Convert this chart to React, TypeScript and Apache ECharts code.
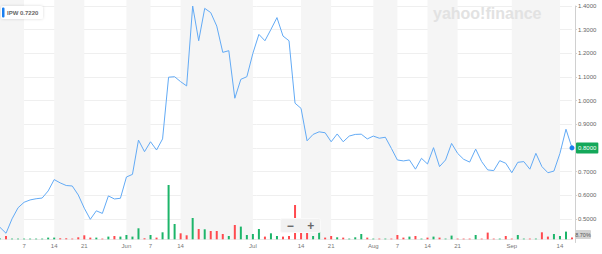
import React, { useEffect, useRef } from "react";
import * as echarts from "echarts";

// Trading days (2023, MM-DD)
const dates: string[] = [
  "05-02","05-03","05-04","05-05","05-08","05-09","05-10","05-11","05-12","05-15","05-16","05-17","05-18","05-19","05-22","05-23","05-24","05-25","05-26","05-30","05-31",
  "06-01","06-02","06-05","06-06","06-07","06-08","06-09","06-12","06-13","06-14","06-15","06-16","06-20","06-21","06-22","06-23","06-26","06-27","06-28","06-29","06-30",
  "07-03","07-05","07-06","07-07","07-10","07-11","07-12","07-13","07-14","07-17","07-18","07-19","07-20","07-21","07-24","07-25","07-26","07-27","07-28","07-31",
  "08-01","08-02","08-03","08-04","08-07","08-08","08-09","08-10","08-11","08-14","08-15","08-16","08-17","08-18","08-21","08-22","08-23","08-24","08-25","08-28","08-29","08-30","08-31",
  "09-01","09-05","09-06","09-07","09-08","09-11","09-12","09-13","09-14","09-15","09-18",
];

// Close prices
const prices: number[] = [
  0.464,0.439,0.500,0.547,0.570,0.580,0.585,0.588,0.618,0.666,0.652,0.641,0.639,0.601,0.545,0.498,0.534,0.523,0.597,0.584,0.587,
  0.677,0.688,0.833,0.784,0.826,0.791,0.838,1.099,1.101,1.080,1.062,1.400,1.253,1.390,1.372,1.315,1.204,1.211,1.010,1.090,1.101,
  1.200,1.280,1.253,1.301,1.351,1.273,1.253,0.989,0.967,0.830,0.857,0.868,0.864,0.826,0.859,0.826,0.850,0.857,0.858,0.838,
  0.850,0.841,0.845,0.798,0.749,0.745,0.749,0.710,0.756,0.732,0.801,0.721,0.749,0.819,0.777,0.752,0.740,0.795,0.742,0.707,0.704,0.746,0.735,
  0.695,0.739,0.742,0.710,0.777,0.721,0.695,0.702,0.777,0.879,0.800,
];

// Volume (millions)
const volumes: number[] = [
  0.07,0.33,0.07,0.07,0.07,0.07,0.07,0.07,0.17,0.17,0.10,0.10,0.07,0.20,0.40,0.17,0.17,0.07,0.27,0.33,0.27,
  0.43,0.27,1.10,0.10,0.43,0.17,0.70,5.43,1.53,0.60,0.40,2.13,1.03,1.00,0.83,0.83,0.53,0.33,1.43,1.27,0.43,
  0.53,1.03,0.27,0.60,0.33,0.27,0.33,3.43,1.10,0.83,0.33,0.77,0.17,0.33,0.20,0.17,0.07,0.20,0.53,0.17,
  0.07,0.07,0.07,0.07,0.43,0.17,0.27,0.33,0.07,0.17,0.27,0.17,0.07,0.37,0.07,0.07,0.07,0.43,0.07,0.67,0.07,0.07,0.33,
  0.07,0.43,0.07,0.07,0.07,0.70,0.27,0.53,0.33,0.77,0.17,
];

// X tick labels
const labelDates: string[] = ["05-08","05-15","05-22","06-01","06-07","06-14","07-03","07-14","07-21","08-01","08-07","08-14","08-21","09-01","09-14"];
const labelTexts: string[] = ["7","14","21","Jun","7","14","Jul","14","21","Aug","7","14","21","Sep","14"];

// Shaded week bands
const bandStarts: string[] = ["05-02","05-15","06-01","06-14","07-14","08-01","08-14","09-01"];
const bandEnds: string[] = ["05-08","05-22","06-07","07-03","07-21","08-07","08-21","09-14"];

const ticker = "IPW";
const legendValue = "0.7220";
const volumeBadge = "8.70%";

const UP = "#1db56a";
const DOWN = "#ff4a4f";
const FONT = "'Liberation Sans', Arial, sans-serif";

export default function App() {
  const ref = useRef<HTMLDivElement>(null);
  useEffect(() => {
    if (!ref.current) return;
    const chart = echarts.init(ref.current, undefined, { renderer: "svg" });
    const last = prices.length - 1;
    const volData = volumes.map((v, i) => ({
      value: v,
      itemStyle: { color: i > 0 && prices[i] < prices[i - 1] ? DOWN : UP },
    }));
    const labelMap: Record<string, string> = {};
    labelDates.forEach((d, i) => (labelMap[d] = labelTexts[i]));
    const L = -3;
    const R = 30;
    chart.setOption({
      animation: false,
      textStyle: { fontFamily: FONT },
      grid: [
        { left: L, right: R, top: 0, bottom: 14.7 },
        { left: L, right: R, top: 6, bottom: 11.5 },
        { left: L, right: R, bottom: 14.7, height: 60 },
      ],
      xAxis: [
        { gridIndex: 0, type: "category", data: dates, boundaryGap: false, show: false },
        { gridIndex: 1, type: "category", data: dates, boundaryGap: false, show: false },
        {
          gridIndex: 2, type: "category", data: dates, boundaryGap: false,
          axisLine: { show: true, lineStyle: { color: "#e8e8e8" } },
          axisTick: { show: false },
          axisLabel: {
            interval: (i: number, v: string) => v in labelMap,
            formatter: (v: string) => labelMap[v] || "",
            fontSize: 6, color: "#777", margin: 4,
          },
        },
      ],
      yAxis: [
        { gridIndex: 0, type: "value", min: 0, max: 1, show: false },
        {
          gridIndex: 1, type: "value", position: "right", offset: 3,
          min: 0.4, max: 1.4, interval: 0.1,
          axisLine: { show: true, lineStyle: { color: "#d0d0d0" } },
          axisTick: { show: true, length: 2, lineStyle: { color: "#d0d0d0" } },
          axisLabel: {
            formatter: (v: number) => v.toFixed(4),
            fontSize: 6, color: "#666", margin: 3, showMinLabel: false,
          },
          splitLine: { show: true, showMinLine: false, lineStyle: { color: "#efefef", width: 1 } },
        },
        { gridIndex: 2, type: "value", min: 0, max: 6, show: false },
      ],
      series: [
        {
          type: "line", xAxisIndex: 0, yAxisIndex: 0, data: [], silent: true, z: 0,
          markArea: {
            silent: true,
            itemStyle: { color: "#f5f5f5" },
            data: bandStarts.map((s, i) => [{ xAxis: s }, { xAxis: bandEnds[i] }]),
          },
        },
        {
          type: "bar", xAxisIndex: 2, yAxisIndex: 2, data: volData, barWidth: 2,
        },
        {
          type: "line", xAxisIndex: 1, yAxisIndex: 1, data: prices,
          showSymbol: false, lineStyle: { color: "#62aaf5", width: 1 },
          itemStyle: { color: "#62aaf5" },
          markPoint: {
            symbol: "circle", symbolSize: 5,
            itemStyle: { color: "#1a7ff0" },
            label: {
              show: true, position: "right", distance: 1.5,
              formatter: () => prices[last].toFixed(4),
              backgroundColor: "#14a85a", color: "#fff", fontSize: 6,
              padding: [3, 2, 2, 2], borderRadius: 1,
            },
            data: [{ coord: [dates[last], prices[last]] }],
          },
        },
      ],
      graphic: [
        {
          type: "text", left: 433, top: 5, silent: true, z: 100,
          style: { text: "yahoo!finance", fontSize: 16, fontWeight: "bold", fill: "#e2e2e2", fontFamily: FONT },
        },
        {
          type: "group", left: 1, top: 6, z: 100,
          children: [
            { type: "rect", z: 100, shape: { x: 0, y: 0, width: 42, height: 13, r: 2 }, style: { fill: "#fff", shadowBlur: 3, shadowColor: "rgba(0,0,0,0.15)" } },
            { type: "rect", z: 101, shape: { x: 1, y: 1.5, width: 2.5, height: 10, r: 1 }, style: { fill: "#1a7ff0" } },
            { type: "text", z: 101, x: 6, y: 6.5, style: { text: ticker + " " + legendValue, fontSize: 6, fontWeight: "bold", fill: "#666", verticalAlign: "middle", fontFamily: FONT } },
          ],
        },
        {
          type: "group", left: 280, top: 218, z: 100,
          children: [
            { type: "rect", z: 100, shape: { x: 0, y: 0, width: 40, height: 14, r: 2 }, style: { fill: "#f1f1f1", stroke: "#fafafa" } },
            { type: "text", z: 101, x: 9.7, y: 7, style: { text: "−", fontSize: 12, fontWeight: "bold", fill: "#666", align: "center", verticalAlign: "middle", fontFamily: FONT } },
            { type: "text", z: 101, x: 30.3, y: 7, style: { text: "+", fontSize: 12, fontWeight: "bold", fill: "#666", align: "center", verticalAlign: "middle", fontFamily: FONT } },
          ],
        },
        {
          type: "group", left: 575, top: 230, z: 100,
          children: [
            { type: "rect", z: 100, shape: { x: 0, y: 0, width: 16, height: 9, r: 1 }, style: { fill: "#d4d4d4" } },
            { type: "text", z: 101, x: 8, y: 4.8, style: { text: volumeBadge, fontSize: 5.5, fill: "#555", align: "center", verticalAlign: "middle", fontFamily: FONT } },
          ],
        },
      ],
    });
    return () => chart.dispose();
  }, []);
  return (
    <div
      ref={ref}
      style={{ position: "absolute", left: 0, top: 0, width: 602, height: 254, background: "#fff" }}
    />
  );
}
